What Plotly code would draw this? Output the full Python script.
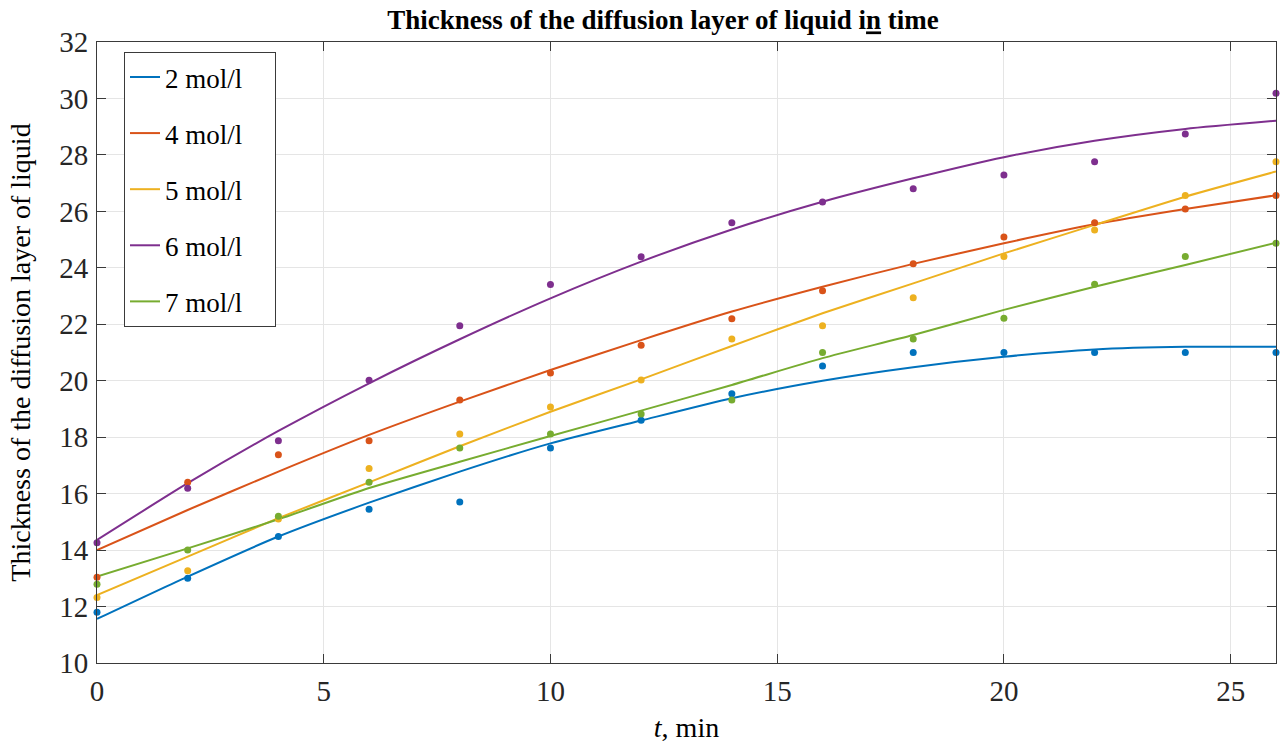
import plotly.graph_objects as go

# measurement times, min
T = [0, 2, 4, 6, 8, 10, 12, 14, 16, 18, 20, 22, 24, 26]

LABELS = ['2 mol/l', '4 mol/l', '5 mol/l', '6 mol/l', '7 mol/l']
COLORS = ['#0072BD', '#D95319', '#EDB120', '#7E2F8E', '#77AC30']

# measured thickness (points)
MEAS_2 = [11.8, 13.0, 14.48, 15.45, 15.7, 17.62, 18.6, 19.54, 20.52, 21.0, 21.0, 21.0, 21.0, 21.0]
MEAS_4 = [13.04, 16.4, 17.38, 17.87, 19.32, 20.27, 21.26, 22.2, 23.19, 24.14, 25.09, 25.6, 26.08, 26.56]
MEAS_5 = [12.32, 13.27, 15.1, 16.89, 18.11, 19.07, 20.03, 21.48, 21.95, 22.94, 24.4, 25.34, 26.56, 27.76]
MEAS_6 = [14.26, 16.19, 17.87, 20.02, 21.95, 23.41, 24.39, 25.6, 26.33, 26.8, 27.29, 27.76, 28.74, 30.18]
MEAS_7 = [12.79, 14.0, 15.2, 16.4, 17.62, 18.11, 18.82, 19.32, 21.0, 21.48, 22.21, 23.42, 24.4, 24.87]

# fitted curves (lines), read at the same times
FIT_2 = [11.56, 13.06, 14.48, 15.68, 16.78, 17.78, 18.59, 19.38, 20.0, 20.48, 20.85, 21.11, 21.2, 21.2]
FIT_4 = [14.0, 15.42, 16.78, 18.08, 19.26, 20.38, 21.44, 22.45, 23.33, 24.14, 24.87, 25.54, 26.08, 26.57]
FIT_5 = [12.41, 13.77, 15.13, 16.4, 17.68, 18.9, 20.05, 21.23, 22.39, 23.45, 24.51, 25.52, 26.52, 27.41]
FIT_6 = [14.36, 16.37, 18.22, 19.91, 21.47, 22.92, 24.22, 25.36, 26.34, 27.17, 27.92, 28.5, 28.92, 29.21]
FIT_7 = [13.06, 14.06, 15.09, 16.2, 17.13, 18.04, 18.94, 19.85, 20.8, 21.62, 22.51, 23.33, 24.1, 24.89]

MEAS = [MEAS_2, MEAS_4, MEAS_5, MEAS_6, MEAS_7]
FITS = [FIT_2, FIT_4, FIT_5, FIT_6, FIT_7]

SERIF = 'Liberation Serif'
AXIS_COLOR = '#3a3a3a'

fig = go.Figure()

# fitted lines carry the legend entries
for label, color, fit in zip(LABELS, COLORS, FITS):
    fig.add_trace(go.Scatter(
        x=T, y=fit, mode='lines', name=label + '&nbsp;' * 4, legendgroup=label,
        line=dict(color=color, width=2, shape='spline', smoothing=0.6),
    ))

# measured points, no legend entry
for label, color, meas in zip(LABELS, COLORS, MEAS):
    fig.add_trace(go.Scatter(
        x=T, y=meas, mode='markers', showlegend=False, legendgroup=label,
        marker=dict(color=color, size=7),
        cliponaxis=False,
    ))

axis_common = dict(
    showline=True, linecolor=AXIS_COLOR, linewidth=1, mirror='ticks',
    ticks='inside', ticklen=9, tickcolor=AXIS_COLOR,
    showgrid=True, gridcolor='#e5e5e5', gridwidth=1,
    zeroline=False,
    tickfont=dict(family=SERIF, size=29, color='#262626'),
)

fig.update_layout(
    width=1282, height=744,
    margin=dict(l=97, r=6, t=42, b=81),
    plot_bgcolor='white', paper_bgcolor='white',
    title=dict(
        text='<b>Thickness of the diffusion layer of liquid i<u>n</u> time</b>',
        x=663 / 1282, xanchor='center', y=1 - 20 / 744, yanchor='middle',
        font=dict(family=SERIF, size=27, color='black'),
    ),
    xaxis=dict(axis_common, range=[0, 26.0001], tickvals=[0, 5, 10, 15, 20, 25],
               ticklabelstandoff=2, automargin=False,
               title=dict(text='<i>t</i>, min', standoff=11,
                          font=dict(family=SERIF, size=28, color='black'))),
    yaxis=dict(axis_common, range=[10, 32], dtick=2, ticklabelstandoff=2,
               automargin=True,
               title=dict(text='Thickness of the diffusion layer of liquid', standoff=20,
                          font=dict(family=SERIF, size=28, color='black'))),
    legend=dict(
        x=0.0229, y=0.984, xanchor='left', yanchor='top',
        bgcolor='white', bordercolor=AXIS_COLOR, borderwidth=1,
        font=dict(family=SERIF, size=27, color='black'),
        traceorder='grouped', tracegroupgap=18,
    ),
    showlegend=True,
)

# drop the browser's default 8px body margin so the figure fills the window
fig.write_html("out.html", config={'displayModeBar': False},
               post_script="document.body.style.margin = '0';")
